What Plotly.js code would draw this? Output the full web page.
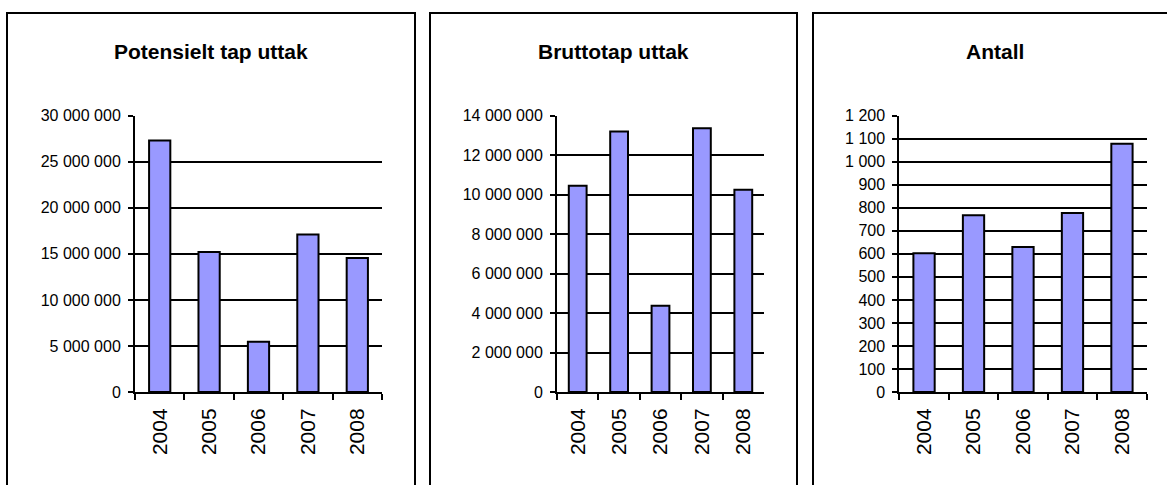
<!DOCTYPE html>
<html>
<head>
<meta charset="utf-8">
<script src="https://cdn.plot.ly/plotly-3.0.1.min.js"></script>
<style>html,body{margin:0;padding:0;background:#fff}#chart{width:1167px;height:485px}</style>
</head>
<body>
<div id="chart"></div>
<script>
const years = ['2004', '2005', '2006', '2007', '2008'];
const potensieltTap = [27300000, 15200000, 5450000, 17100000, 14550000];
const bruttotap = [10450000, 13200000, 4370000, 13370000, 10250000];
const antall = [603, 768, 630, 777, 1078];
const titles = ['Potensielt tap uttak', 'Bruttotap uttak', 'Antall'];

const W = 1167, H = 485;
const px = x => x / W;
const py = y => 1 - y / H;
const FONT = '"Liberation Sans", Arial, sans-serif';

function barTrace(vals, n) {
  return {
    type: 'bar', x: years, y: vals,
    xaxis: 'x' + (n === 1 ? '' : n), yaxis: 'y' + (n === 1 ? '' : n),
    marker: {color: '#9999FF', line: {color: '#000', width: 2}},
    hoverinfo: 'x+y'
  };
}

const data = [barTrace(potensieltTap, 1), barTrace(bruttotap, 2), barTrace(antall, 3)];

function xax(l, r, anchor) {
  return {
    domain: [px(l), px(r)], anchor: anchor, type: 'category',
    showline: true, linecolor: '#000', linewidth: 2,
    ticks: 'outside', tickson: 'boundaries', ticklen: 6, tickwidth: 2, tickcolor: '#000',
    ticklabelstandoff: 6,
    tickangle: -90, tickfont: {family: FONT, size: 21, color: '#000'},
    showgrid: false, zeroline: false, fixedrange: true
  };
}
function yax(max, dtick, anchor) {
  return {
    domain: [py(392), py(115.7)], anchor: anchor, range: [0, max], dtick: dtick, tick0: 0,
    showline: true, linecolor: '#000', linewidth: 2,
    ticks: 'outside', ticklen: 5, tickwidth: 2, tickcolor: '#000',
    ticklabelstandoff: 4,
    showgrid: true, gridcolor: '#000', gridwidth: 2, zeroline: false,
    tickformat: ',d', tickfont: {family: FONT, size: 16, color: '#000'},
    fixedrange: true
  };
}

const panels = [[7, 415], [430, 797], [813, 1190]];
const shapes = panels.map(p => ({
  type: 'rect', xref: 'paper', yref: 'paper',
  x0: px(p[0]), x1: px(p[1]), y0: py(13), y1: py(540),
  line: {color: '#000', width: 2}, fillcolor: 'rgba(0,0,0,0)', layer: 'below'
}));
const titleX = [211, 613.5, 995.3];
const annotations = titles.map((t, i) => ({
  text: t, xref: 'paper', yref: 'paper', x: px(titleX[i]), y: py(52),
  xanchor: 'center', yanchor: 'middle', showarrow: false,
  font: {family: FONT, size: 21, color: '#000', weight: 'bold'}
}));

const layout = {
  width: W, height: H, margin: {l: 0, r: 0, t: 0, b: 0},
  paper_bgcolor: '#fff', plot_bgcolor: 'rgba(0,0,0,0)',
  showlegend: false, bargap: 0.57, separators: ', ',
  xaxis: xax(135, 382, 'y'), yaxis: yax(30000000, 5000000, 'x'),
  xaxis2: xax(557, 764, 'y2'), yaxis2: yax(14000000, 2000000, 'x2'),
  xaxis3: xax(899.3, 1146.7, 'y3'), yaxis3: yax(1200, 100, 'x3'),
  shapes: shapes, annotations: annotations
};

Plotly.newPlot('chart', data, layout, {displayModeBar: false, staticPlot: true});
</script>
</body>
</html>
